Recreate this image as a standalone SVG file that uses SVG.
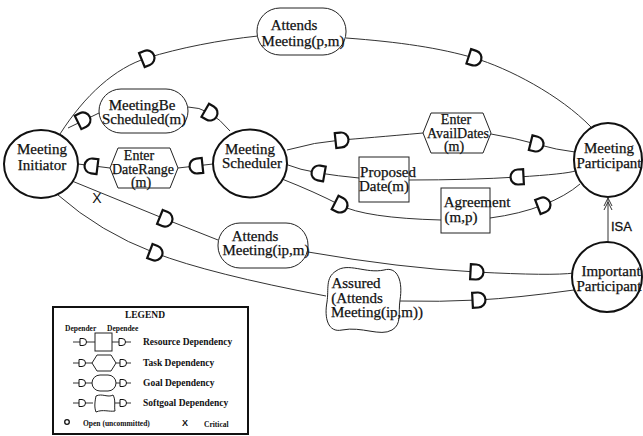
<svg xmlns="http://www.w3.org/2000/svg" xmlns:xlink="http://www.w3.org/1999/xlink" width="643" height="436" viewBox="0 0 643 436">
<style>
.bg{fill:#fff}
.actor{fill:#fff;stroke:#111;stroke-width:2}
.shape{fill:#fff;stroke:#222;stroke-width:1}
.lbl{font-family:"Liberation Serif","Times New Roman",serif;font-size:15px;fill:#111;text-anchor:middle;stroke:#111;stroke-width:0.25}
.sm{font-size:14px}
.link{fill:none;stroke:#333;stroke-width:1}
.dm{fill:#fff;stroke:#111;stroke-width:2.2}
.lg{font-family:"Liberation Serif","Times New Roman",serif;font-weight:bold;fill:#111}
.sans{font-family:"Liberation Sans",Arial,sans-serif;fill:#111}
</style>
<defs>
<path id="D" d="M-5.5,-7.5 H0 A7.5,7.5 0 0 1 0,7.5 H-5.5 Z"/>
<path id="d" d="M-3,-3.5 H0 A3.5,3.5 0 0 1 0,3.5 H-3 Z"/>
</defs>
<rect class="bg" x="0" y="0" width="643" height="436"/>

<g id="connectors">
<path class="link" d="M60,134 C85,95 115,68 147,58 S220,40 258,36"/>
<path class="link" d="M346,38 C400,42 440,48 474,58 S560,95 591,127"/>
<path class="link" d="M68,128 L99,113"/>
<path class="link" d="M188,107 Q210,107 230,131"/>
<path class="link" d="M78,164 L110,168"/>
<path class="link" d="M178,168 L213,164"/>
<path class="link" d="M287,150 Q315,142 341,140 T423,133"/>
<path class="link" d="M491,134 Q515,138 536,144 T575,152"/>
<path class="link" d="M285,164 Q300,170 319,173 T359,178"/>
<path class="link" d="M409,180 Q470,180 518,177 T575,171"/>
<path class="link" d="M282,179 Q315,192 340,205 T441,220"/>
<path class="link" d="M490,218 Q520,214 543,205 T580,184"/>
<path class="link" d="M72,181 L165,219 L218,240"/>
<path class="link" d="M308,252 Q400,268 476,272 T574,273"/>
<path class="link" d="M58,195 Q100,232 155,253 T326,296"/>
<path class="link" d="M400,301 Q440,302 478,300 T574,290"/>
<path class="link" d="M608,242 L608,198"/>
<path class="link" d="M604,206 L608,198 L612,206 M604,210 L608,202 L612,210"/>
<text class="sans" x="611" y="231" font-size="13" stroke="#111" stroke-width="0.3">ISA</text>
<text class="sans" x="97" y="203" font-size="14" text-anchor="middle">X</text>
<use xlink:href="#D" class="dm" transform="translate(147,58) rotate(-22)"/>
<use xlink:href="#D" class="dm" transform="translate(474,58) rotate(18)"/>
<use xlink:href="#D" class="dm" transform="translate(83,120) rotate(-26)"/>
<use xlink:href="#D" class="dm" transform="translate(210,113) rotate(30)"/>
<use xlink:href="#D" class="dm" transform="translate(92,166) rotate(187)"/>
<use xlink:href="#D" class="dm" transform="translate(197,166) rotate(174)"/>
<use xlink:href="#D" class="dm" transform="translate(341,140) rotate(-6)"/>
<use xlink:href="#D" class="dm" transform="translate(536,144) rotate(14)"/>
<use xlink:href="#D" class="dm" transform="translate(319,173) rotate(190)"/>
<use xlink:href="#D" class="dm" transform="translate(518,177) rotate(177)"/>
<use xlink:href="#D" class="dm" transform="translate(340,205) rotate(27)"/>
<use xlink:href="#D" class="dm" transform="translate(543,205) rotate(-21)"/>
<use xlink:href="#D" class="dm" transform="translate(165,219) rotate(22)"/>
<use xlink:href="#D" class="dm" transform="translate(476,272) rotate(3)"/>
<use xlink:href="#D" class="dm" transform="translate(155,253) rotate(21)"/>
<use xlink:href="#D" class="dm" transform="translate(478,300) rotate(-3)"/>
</g>

<g id="meeting-initiator">
<ellipse class="actor" cx="41" cy="164" rx="37" ry="34"/>
<text class="lbl" x="42" y="154">Meeting</text>
<text class="lbl" x="42" y="170">Initiator</text>
</g>
<g id="meeting-scheduler">
<ellipse class="actor" cx="250" cy="163.5" rx="37" ry="34"/>
<text class="lbl" x="250" y="154">Meeting</text>
<text class="lbl" x="252" y="168">Scheduler</text>
</g>
<g id="meeting-participant">
<ellipse class="actor" cx="608" cy="160" rx="34" ry="37"/>
<text class="lbl" x="609" y="153">Meeting</text>
<text class="lbl" x="609" y="168">Participant</text>
</g>
<g id="important-participant">
<ellipse class="actor" cx="607" cy="277" rx="35" ry="35"/>
<text class="lbl" x="611" y="276">Important</text>
<text class="lbl" x="609" y="291">Participant</text>
</g>

<g id="goal-attends-pm">
<rect class="shape" x="257" y="8" width="89" height="47" rx="23" ry="23"/>
<text class="lbl" x="294" y="30">Attends</text>
<text class="lbl" x="303" y="46">Meeting(p,m)</text>
</g>
<g id="goal-meeting-scheduled">
<rect class="shape" x="99" y="89" width="89" height="44" rx="22" ry="22"/>
<text class="lbl" x="142" y="110">MeetingBe</text>
<text class="lbl" x="144" y="124">Scheduled(m)</text>
</g>
<g id="task-enter-daterange">
<polygon class="shape" points="118,148 170,148 178,168 170,188 118,188 110,168"/>
<text class="lbl sm" x="139" y="160">Enter</text>
<text class="lbl sm" x="143" y="174">DateRange</text>
<text class="lbl sm" x="141" y="187">(m)</text>
</g>
<g id="task-enter-availdates">
<polygon class="shape" points="431,113 483,113 491,133 483,153 431,153 423,133"/>
<text class="lbl sm" x="456" y="124">Enter</text>
<text class="lbl sm" x="458" y="138">AvailDates</text>
<text class="lbl sm" x="454" y="151">(m)</text>
</g>
<g id="res-proposed-date">
<rect class="shape" x="359" y="157" width="50" height="45"/>
<text class="lbl" x="388" y="177">Proposed</text>
<text class="lbl" x="384" y="191">Date(m)</text>
</g>
<g id="res-agreement">
<rect class="shape" x="441" y="188" width="49" height="45"/>
<text class="lbl" x="477" y="207">Agreement</text>
<text class="lbl" x="461" y="222">(m,p)</text>
</g>
<g id="goal-attends-ipm">
<rect class="shape" x="218" y="223" width="90" height="45" rx="22" ry="22"/>
<text class="lbl" x="255" y="241">Attends</text>
<text class="lbl" x="266" y="255">Meeting(ip,m)</text>
</g>
<g id="softgoal-assured">
<path class="shape" d="M336,271 C348,262 366,274 384,270 C398,266 403,282 400,300 C398,314 402,324 392,330 C380,337 362,326 342,330 C328,333 324,318 327,302 C329,289 325,278 336,271 Z"/>
<text class="lbl" x="356" y="288">Assured</text>
<text class="lbl" x="357" y="303">(Attends</text>
<text class="lbl" x="377" y="317">Meeting(ip,m))</text>
</g>

<g id="legend">
<rect x="53" y="307" width="195" height="127" fill="#fff" stroke="#111" stroke-width="2"/>
<text class="lg" x="145" y="318" font-size="9.5" text-anchor="middle">LEGEND</text>
<text class="lg" x="65" y="331" font-size="7.5">Depender</text>
<text class="lg" x="107" y="331" font-size="7.5">Dependee</text>
<g class="link"><path d="M73,342 H95 M112,342 H131 M73,363 H92 M116,363 H131 M73,383 H92 M116,383 H131 M73,403 H93 M115,403 H131"/></g>
<rect class="shape" x="95" y="333" width="17" height="18"/>
<polygon class="shape" points="92,363 97,355 111,355 116,363 111,371 97,371"/>
<rect class="shape" x="92" y="375" width="24" height="16" rx="8" ry="8"/>
<path class="shape" d="M96,396 C102,393 108,398 113,395 C116,400 114,406 115,411 C109,412 103,409 96,412 C94,407 95,401 96,396 Z"/>
<use xlink:href="#d" fill="#fff" stroke="#111" stroke-width="1" transform="translate(83,342)"/>
<use xlink:href="#d" fill="#fff" stroke="#111" stroke-width="1" transform="translate(122,342)"/>
<use xlink:href="#d" fill="#fff" stroke="#111" stroke-width="1" transform="translate(82,363)"/>
<use xlink:href="#d" fill="#fff" stroke="#111" stroke-width="1" transform="translate(123,363)"/>
<use xlink:href="#d" fill="#fff" stroke="#111" stroke-width="1" transform="translate(82,383)"/>
<use xlink:href="#d" fill="#fff" stroke="#111" stroke-width="1" transform="translate(123,383)"/>
<use xlink:href="#d" fill="#fff" stroke="#111" stroke-width="1" transform="translate(82,403)"/>
<use xlink:href="#d" fill="#fff" stroke="#111" stroke-width="1" transform="translate(123,403)"/>
<text class="lg" x="143" y="345" font-size="9.5">Resource Dependency</text>
<text class="lg" x="143" y="366" font-size="9.5">Task Dependency</text>
<text class="lg" x="143" y="386" font-size="9.5">Goal Dependency</text>
<text class="lg" x="143" y="406" font-size="9.5">Softgoal Dependency</text>
<circle cx="67" cy="422" r="2.3" fill="none" stroke="#111" stroke-width="1.3"/>
<text class="lg" x="83" y="426" font-size="7.5">Open (uncommitted)</text>
<text class="sans" x="185" y="426" font-size="9" text-anchor="middle" font-weight="bold">X</text>
<text class="lg" x="204" y="427" font-size="7.5">Critical</text>
</g>
</svg>
